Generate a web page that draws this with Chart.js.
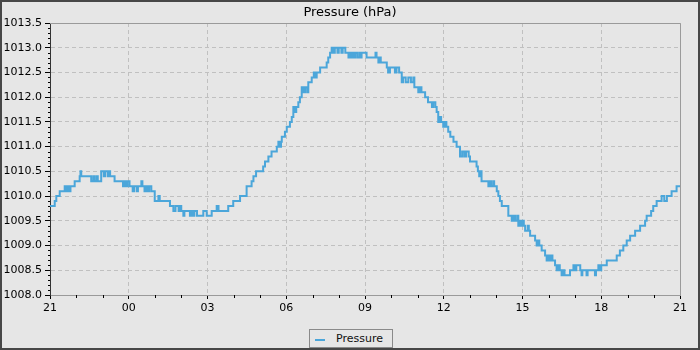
<!DOCTYPE html>
<html>
<head>
<meta charset="utf-8">
<script src="https://cdn.jsdelivr.net/npm/chart.js@4/dist/chart.umd.min.js"></script>
<style>
  html, body { margin: 0; padding: 0; background: #e6e6e6; }
  #frame {
    position: relative;
    width: 700px; height: 350px;
    box-sizing: border-box;
    border: 2px solid #474747;
    background: #e6e6e6;
  }
  #frame canvas { display: block; }
  #legend {
    position: absolute;
    left: 307px; top: 327px;
    width: 84px; height: 19px;
    box-sizing: border-box;
    border: 1px solid #8a8a8a;
    background: #e6e6e6;
    font: 11px "DejaVu Sans", sans-serif;
    color: #111;
  }
  #legend .swatch {
    position: absolute; left: 5px; top: 9px;
    width: 10px; height: 2px; background: #4ba6da;
  }
  #legend .label { position: absolute; left: 26px; top: 2px; }
</style>
</head>
<body>
<div id="frame">
  <canvas id="pressureChart" width="696" height="346"></canvas>
  <div id="legend"><span class="swatch"></span><span class="label">Pressure</span></div>
</div>
<script>
// hours after 21:00, each value holds until the next reading
const hours = [
  0.00, 0.18, 0.24, 0.37, 0.56, 0.62, 0.66, 0.72, 0.78, 0.94,
  1.13, 1.16, 1.19, 1.57, 1.65, 1.70, 1.78, 1.82, 1.95, 2.05,
  2.10, 2.20, 2.25, 2.29, 2.46, 2.78, 2.85, 2.90, 2.95, 3.03,
  3.15, 3.20, 3.30, 3.35, 3.48, 3.52, 3.60, 3.65, 3.72, 3.78,
  3.86, 3.99, 4.13, 4.18, 4.57, 4.70, 4.78, 4.90, 4.95, 5.00,
  5.08, 5.12, 5.33, 5.38, 5.45, 5.50, 5.60, 5.84, 5.97, 6.16,
  6.35, 6.42, 6.79, 6.98, 7.24, 7.49, 7.68, 7.75, 7.85, 8.12,
  8.19, 8.32, 8.44, 8.64, 8.70, 8.75, 8.80, 8.83, 8.95, 9.02,
  9.14, 9.21, 9.27, 9.32, 9.38, 9.46, 9.52, 9.59, 9.65, 9.72,
  9.80, 9.84, 9.97, 10.05, 10.10, 10.16, 10.29, 10.54, 10.60, 10.67,
  10.73, 10.80, 10.85, 10.95, 11.00, 11.10, 11.15, 11.25, 11.30, 11.37,
  11.40, 11.43, 11.49, 11.55, 11.62, 11.70, 11.78, 11.85, 11.87, 12.06,
  12.40, 12.44, 12.51, 12.55, 12.60, 12.83, 12.88, 12.95, 13.14, 13.20,
  13.30, 13.40, 13.45, 13.55, 13.65, 13.75, 13.84, 13.88, 14.03, 14.10,
  14.15, 14.29, 14.40, 14.55, 14.60, 14.68, 14.73, 14.79, 14.85, 14.90,
  14.98, 15.05, 15.10, 15.17, 15.25, 15.37, 15.49, 15.62, 15.70, 15.78,
  15.85, 15.95, 16.00, 16.25, 16.30, 16.35, 16.40, 16.44, 16.70, 16.75,
  16.80, 16.88, 16.92, 17.02, 17.08, 17.14, 17.21, 17.46, 17.59, 17.65,
  17.72, 17.80, 17.84, 17.90, 17.95, 18.00, 18.05, 18.10, 18.20, 18.24,
  18.29, 18.48, 18.54, 18.60, 18.64, 18.73, 18.86, 18.92, 18.98, 19.05,
  19.10, 19.14, 19.24, 19.30, 19.35, 19.42, 19.49, 19.55, 19.60, 19.81,
  19.94, 20.00, 20.05, 20.20, 20.25, 20.28, 20.44, 20.48, 20.76, 20.80,
  20.89, 20.95, 21.00, 21.21, 21.59, 21.71, 21.84, 21.97, 22.10, 22.29,
  22.48, 22.67, 22.73, 22.90, 22.98, 23.11, 23.30, 23.40, 23.50, 23.68,
  23.87, 24.00
];

const pressure = [
  1009.8, 1009.9, 1010.0, 1010.1, 1010.2, 1010.1, 1010.2, 1010.1, 1010.2, 1010.3,
  1010.4, 1010.5, 1010.4, 1010.3, 1010.4, 1010.3, 1010.4, 1010.3, 1010.5, 1010.4,
  1010.5, 1010.4, 1010.5, 1010.4, 1010.3, 1010.2, 1010.3, 1010.2, 1010.3, 1010.2,
  1010.1, 1010.2, 1010.1, 1010.2, 1010.3, 1010.2, 1010.1, 1010.2, 1010.1, 1010.2,
  1010.1, 1009.9, 1010.0, 1009.9, 1009.8, 1009.7, 1009.8, 1009.7, 1009.8, 1009.7,
  1009.6, 1009.7, 1009.6, 1009.7, 1009.6, 1009.7, 1009.6, 1009.7, 1009.6, 1009.7,
  1009.8, 1009.7, 1009.8, 1009.9, 1010.0, 1010.2, 1010.3, 1010.4, 1010.5, 1010.6,
  1010.7, 1010.8, 1010.9, 1011.0, 1011.1, 1011.0, 1011.1, 1011.2, 1011.3, 1011.4,
  1011.5, 1011.6, 1011.8, 1011.7, 1011.8, 1011.9, 1012.0, 1012.2, 1012.1, 1012.2,
  1012.1, 1012.3, 1012.4, 1012.5, 1012.4, 1012.5, 1012.6, 1012.7, 1012.8, 1012.9,
  1013.0, 1012.9, 1013.0, 1012.9, 1013.0, 1012.9, 1013.0, 1012.9, 1012.9, 1012.8,
  1012.9, 1012.8, 1012.9, 1012.8, 1012.9, 1012.8, 1012.9, 1012.8, 1012.9, 1012.8,
  1012.9, 1012.8, 1012.7, 1012.8, 1012.7, 1012.6, 1012.5, 1012.6, 1012.5, 1012.6,
  1012.5, 1012.3, 1012.4, 1012.3, 1012.4, 1012.3, 1012.4, 1012.2, 1012.1, 1012.2,
  1012.1, 1012.0, 1011.9, 1011.8, 1011.9, 1011.8, 1011.7, 1011.5, 1011.6, 1011.5,
  1011.4, 1011.5, 1011.4, 1011.3, 1011.2, 1011.1, 1011.0, 1010.8, 1010.9, 1010.8,
  1010.9, 1010.8, 1010.7, 1010.6, 1010.5, 1010.4, 1010.5, 1010.3, 1010.2, 1010.3,
  1010.2, 1010.3, 1010.2, 1010.1, 1010.0, 1009.9, 1009.8, 1009.6, 1009.5, 1009.6,
  1009.5, 1009.6, 1009.4, 1009.5, 1009.4, 1009.5, 1009.4, 1009.3, 1009.4, 1009.3,
  1009.2, 1009.1, 1009.0, 1009.1, 1009.0, 1008.9, 1008.8, 1008.7, 1008.8, 1008.7,
  1008.8, 1008.7, 1008.6, 1008.5, 1008.6, 1008.5, 1008.4, 1008.5, 1008.4, 1008.5,
  1008.6, 1008.5, 1008.6, 1008.5, 1008.4, 1008.5, 1008.4, 1008.5, 1008.4, 1008.5,
  1008.6, 1008.5, 1008.6, 1008.7, 1008.8, 1008.9, 1009.0, 1009.1, 1009.2, 1009.3,
  1009.4, 1009.5, 1009.6, 1009.7, 1009.8, 1009.9, 1010.0, 1009.9, 1010.0, 1010.1,
  1010.2, 1010.2
];

const xTickLabels = ['21', '00', '03', '06', '09', '12', '15', '18', '21'];
const yMin = 1008.0;
const yMax = 1013.5;

const FONT = 'DejaVu Sans';

// short unlabeled ticks (every hour / every 0.1 hPa) plus the top/right frame
const axisExtras = {
  id: 'axisExtras',
  afterDraw(chart) {
    const { ctx, chartArea: a, scales: { x, y } } = chart;
    ctx.save();
    ctx.lineWidth = 1;
    ctx.strokeStyle = '#000';
    ctx.beginPath();
    for (let h = 0; h <= 24; h++) {
      if (h % 3 === 0) continue;
      const px = Math.round(x.getPixelForValue(h)) + 0.5;
      ctx.moveTo(px, a.bottom);
      ctx.lineTo(px, a.bottom + 3);
    }
    for (let i = 0; i <= 55; i++) {
      if (i % 5 === 0) continue;
      const py = Math.round(y.getPixelForValue(yMin + i / 10)) + 0.5;
      ctx.moveTo(a.left - 2, py);
      ctx.lineTo(a.left, py);
    }
    ctx.stroke();

    ctx.strokeStyle = '#9a9a9a';
    ctx.beginPath();
    ctx.moveTo(a.left, Math.round(a.top) + 0.5);
    ctx.lineTo(Math.round(a.right) + 0.5, Math.round(a.top) + 0.5);
    ctx.lineTo(Math.round(a.right) + 0.5, a.bottom);
    ctx.stroke();
    ctx.restore();
  }
};

new Chart(document.getElementById('pressureChart'), {
  type: 'line',
  data: {
    datasets: [{
      label: 'Pressure',
      data: hours.map((h, i) => ({ x: h, y: pressure[i] })),
      borderColor: '#4ba6da',
      backgroundColor: '#4ba6da',
      borderWidth: 2,
      pointRadius: 0,
      stepped: true,
      fill: false
    }]
  },
  options: {
    responsive: false,
    animation: false,
    events: [],
    layout: { padding: { left: 0, right: 0, top: 0, bottom: 33 } },
    plugins: {
      legend: { display: false },
      tooltip: { enabled: false },
      title: {
        display: true,
        text: 'Pressure (hPa)',
        color: '#000',
        font: { family: FONT, size: 13, weight: 'normal' },
        padding: { top: 3, bottom: 2.4 }
      }
    },
    scales: {
      x: {
        type: 'linear',
        min: 0,
        max: 24,
        afterFit: (s) => { s.height = 20; },
        ticks: {
          stepSize: 3,
          autoSkip: false,
          maxRotation: 0,
          padding: 3,
          color: '#000',
          font: { family: FONT, size: 11 },
          callback: (v) => xTickLabels[v / 3]
        },
        grid: {
          color: '#c0c0c0',
          lineWidth: 1,
          tickLength: 4,
          tickColor: '#000'
        },
        border: { display: true, color: '#9a9a9a', width: 1, dash: [4, 3] }
      },
      y: {
        min: yMin,
        max: yMax,
        afterFit: (s) => { s.width = 48; },
        ticks: {
          stepSize: 0.5,
          padding: 3,
          color: '#000',
          font: { family: FONT, size: 11 },
          callback: (v) => v.toFixed(1)
        },
        grid: {
          color: '#c0c0c0',
          lineWidth: 1,
          tickLength: 5,
          tickColor: '#000'
        },
        border: { display: true, color: '#333', width: 1, dash: [4, 3] }
      },
      // empty strip on the right, keeps the plot narrower than the title row
      yRight: {
        position: 'right',
        min: yMin,
        max: yMax,
        afterFit: (s) => { s.width = 18; },
        ticks: { display: false },
        grid: { drawOnChartArea: false, drawTicks: false },
        border: { display: false }
      }
    }
  },
  plugins: [axisExtras]
});
</script>
</body>
</html>
